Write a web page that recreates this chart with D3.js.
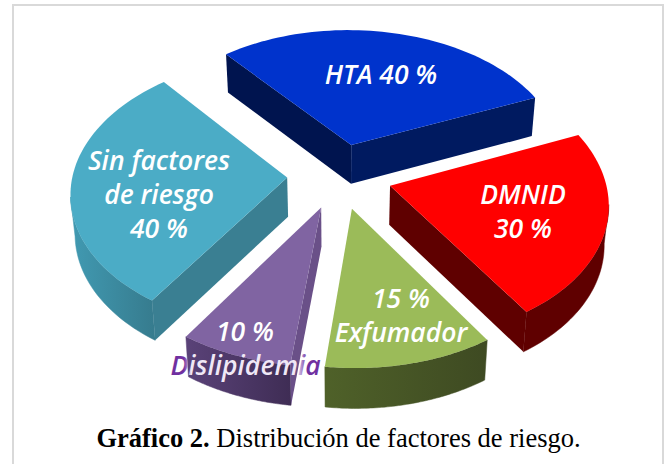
<!DOCTYPE html>
<html>
<head>
<meta charset="utf-8">
<script src="https://cdnjs.cloudflare.com/ajax/libs/d3/7.8.5/d3.min.js"></script>
<style>
  html, body { margin: 0; padding: 0; background: #fff; overflow: hidden; }
  text { font-family: "Open Sans", sans-serif; font-style: italic; font-weight: 600; }
</style>
</head>
<body>
<div id="chart"></div>
<script>
// Slice values as printed on the picture (they add up to 135, the pie uses them as they are)
const categories = ["HTA", "DMNID", "Exfumador", "Dislipidemia", "Sin factores de riesgo"];
const values = [40, 30, 15, 10, 40];
const topColors = ["#0033cc", "#ff0000", "#9bbb59", "#8064a2", "#4bacc6"];
const wallColors = ["#001a60", "#5f0000", "#4a5a28", "#6a5088", "#3a7f92"];
const wallColorsLeft = ["#00144f", "#5f0000", "#4a5a28", "#6a5088", "#3a7f92"];
const rimColorsLeft = ["#001a60", "#5f0000", "#4f6129", "#5a4278", "#419ab2"];
const rimColorsRight = ["#001a60", "#5f0000", "#3e4a22", "#3f2d55", "#35788a"];

const width = 670, height = 464;

// perspective set up, fitted to the corners of the slices
const cx = 339.5, cy = 176;
const scaleU = 267, scaleV = 166.7, persp = 0.137, skew = 2.5;
const radius = 0.804, explode = 0.196;
const depth = 39;

const svg = d3.select("#chart")
    .append("svg")
    .attr("width", width)
    .attr("height", height);

svg.append("rect")
    .attr("x", 13).attr("y", 5)
    .attr("width", 650).attr("height", 470)
    .attr("fill", "#fff")
    .attr("stroke", "#d9d9d9")
    .attr("stroke-width", 2);

const defs = svg.append("defs");

const pie = d3.pie()
    .sort(null)
    .startAngle(-39.5 * Math.PI / 180)
    .endAngle(320.5 * Math.PI / 180);

const slices = pie(values);

function project(u, v) {
    const w = 1 + persp * v;
    return [cx + (scaleU * u - skew * v) / w, cy - scaleV * v / w];
}

// same point on the lower face of the pie
function lower(p) {
    return [cx + (p[0] - cx) * 0.983, p[1] + depth + (p[1] - cy) * 0.007];
}

const line = d3.line();

// back slices first so the front ones paint over them
const drawOrder = [0, 4, 1, 3, 2];

drawOrder.forEach(i => {
    const s = slices[i];
    const mid = (s.startAngle + s.endAngle) / 2;
    const ou = explode * Math.sin(mid), ov = explode * Math.cos(mid);
    const apex = project(ou, ov);
    const steps = d3.range(0, 61).map(k => s.startAngle + (s.endAngle - s.startAngle) * k / 60);
    const arc = steps.map(a => project(ou + radius * Math.sin(a), ov + radius * Math.cos(a)));
    const g = svg.append("g");

    const gradId = "rim" + i;
    const grad = defs.append("linearGradient")
        .attr("id", gradId)
        .attr("gradientUnits", "userSpaceOnUse")
        .attr("x1", d3.min(arc, d => d[0])).attr("x2", d3.max(arc, d => d[0]))
        .attr("y1", 0).attr("y2", 0);
    grad.append("stop").attr("offset", "0%").attr("stop-color", rimColorsLeft[i]);
    grad.append("stop").attr("offset", "100%").attr("stop-color", rimColorsRight[i]);

    // the curved wall, only the part turned to the viewer (going leftwards on screen)
    const front = arc.filter((p, k) => k > 0 && p[0] < arc[k - 1][0] || (k < 60 && arc[k + 1][0] < p[0]));
    if (front.length > 1) {
        g.append("path")
            .attr("d", line(front.concat(front.slice().reverse().map(lower))) + "Z")
            .attr("fill", `url(#${gradId})`)
            .attr("stroke", `url(#${gradId})`)
            .attr("stroke-width", 0.5);
    }

    // straight walls
    [[apex, arc[0], wallColorsLeft[i]], [arc[60], apex, wallColors[i]]].forEach(e => {
        if (e[1][0] < e[0][0]) {
            g.append("path")
                .attr("d", line([e[0], e[1], lower(e[1]), lower(e[0])]) + "Z")
                .attr("fill", e[2]);
        }
    });

    g.append("path")
        .attr("d", line([apex].concat(arc)) + "Z")
        .attr("fill", topColors[i]);
});

// labels
const labels = [
    { lines: ["HTA 40 %"], x: 381, y: 84 },
    { lines: ["DMNID", "30 %"], x: 523, y: 204, dy: 34 },
    { lines: ["15 %", "Exfumador"], x: 401, y: 308, dy: 34 },
    { lines: ["10 %"], x: 245, y: 341 },
    { lines: ["Sin factores", "de riesgo", "40 %"], x: 159, y: 170, dy: 34 }
];

labels.forEach(l => {
    l.lines.forEach((t, k) => {
        svg.append("text")
            .attr("x", l.x)
            .attr("y", l.y + k * (l.dy || 0))
            .attr("text-anchor", "middle")
            .attr("font-size", 26.5)
            .attr("fill", "#fff")
            .text(t);
    });
});

// purple at both ends, where it sits on the white page, pale over the slice
const dysGrad = defs.append("linearGradient").attr("id", "dys");
[["0%", "#7030a0"], ["9%", "#7030a0"], ["14%", "#efe8f5"], ["84%", "#efe8f5"], ["91%", "#7030a0"], ["100%", "#7030a0"]]
    .forEach(d => dysGrad.append("stop").attr("offset", d[0]).attr("stop-color", d[1]));

svg.append("text")
    .attr("x", 245.5)
    .attr("y", 375)
    .attr("text-anchor", "middle")
    .attr("font-size", 26.5)
    .attr("fill", "url(#dys)")
    .text("Dislipidemia");

const caption = svg.append("text")
    .attr("x", 338.5)
    .attr("y", 447)
    .attr("text-anchor", "middle")
    .attr("font-size", 26.5)
    .attr("fill", "#000")
    .style("font-family", "'Liberation Serif', serif")
    .style("font-style", "normal")
    .style("font-weight", 400);
caption.append("tspan").style("font-weight", 700).text("Gráfico 2.");
caption.append("tspan").text(" Distribución de factores de riesgo.");
</script>
</body>
</html>
